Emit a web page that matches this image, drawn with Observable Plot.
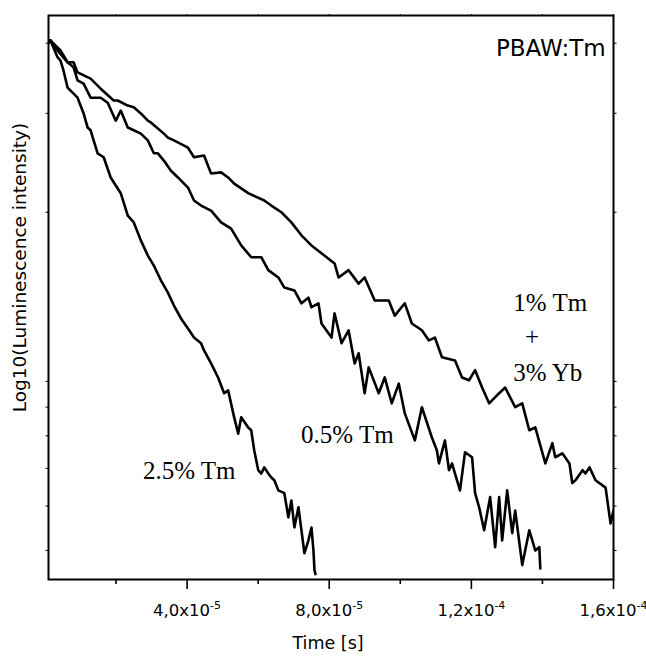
<!DOCTYPE html>
<html>
<head>
<meta charset="utf-8">
<script src="https://cdn.jsdelivr.net/npm/d3@7"></script>
<script src="https://cdn.jsdelivr.net/npm/@observablehq/plot@0.6"></script>
<style>
  html, body { margin: 0; padding: 0; background: #fff; }
</style>
</head>
<body>
<div id="chart"></div>
<script>
// Time in microseconds, value = log10(relative luminescence intensity)
const seriesNames = ["1% Tm + 3% Yb", "0.5% Tm", "2.5% Tm"];

const curveTmYb = [[1.0,0.603],[1.55,0.607],[4.38,0.589],[6.36,0.568],[8.05,0.568],[9.18,0.550],[12.85,0.539],[15.68,0.521],[19.35,0.500],[20.48,0.500],[23.31,0.491],[25.0,0.488],[26.98,0.477],[28.95,0.464],[29.8,0.461],[33.47,0.441],[34.6,0.434],[36.3,0.429],[40.25,0.416],[41.95,0.399],[44.77,0.402],[46.75,0.370],[49.58,0.372],[51.55,0.363],[53.25,0.352],[57.2,0.335],[61.72,0.322],[63.7,0.313],[66.53,0.301],[69.35,0.283],[72.18,0.260],[75.0,0.242],[77.82,0.228],[81.5,0.210],[82.63,0.185],[85.45,0.198],[88.28,0.174],[89.97,0.185],[92.8,0.144],[96.75,0.144],[98.45,0.117],[101.27,0.139],[103.25,0.103],[106.07,0.091],[108.05,0.073],[109.75,0.078],[111.72,0.043],[115.4,0.037],[117.37,0.007],[119.35,0.002],[121.05,0.020],[123.02,-0.011],[125.0,-0.039],[127.82,-0.021],[129.52,-0.011],[132.34,-0.046],[134.32,-0.039],[136.3,-0.087],[137.99,-0.082],[140.82,-0.146],[142.8,-0.110],[143.6,-0.135],[145.6,-0.128],[147.6,-0.146],[148.4,-0.181],[149.3,-0.176],[151.3,-0.158],[152.1,-0.164],[153.25,-0.153],[154.94,-0.176],[157.77,-0.189],[159.18,-0.253],[160.0,-0.230]];

const curveTm05 = [[1.0,0.603],[1.55,0.607],[3.53,0.589],[6.36,0.568],[8.05,0.559],[9.18,0.536],[10.88,0.530],[12.85,0.505],[15.68,0.505],[17.66,0.496],[19.92,0.464],[21.33,0.482],[23.31,0.452],[25.0,0.447],[26.98,0.441],[28.95,0.429],[30.65,0.406],[31.78,0.406],[33.47,0.393],[35.45,0.375],[37.43,0.363],[40.25,0.345],[41.95,0.322],[43.93,0.313],[46.75,0.304],[49.58,0.283],[52.4,0.272],[55.23,0.242],[58.05,0.221],[60.88,0.221],[62.85,0.198],[65.68,0.185],[67.37,0.167],[70.2,0.162],[72.18,0.139],[74.15,0.149],[75.0,0.132],[76.98,0.139],[77.82,0.103],[80.65,0.078],[81.5,0.121],[83.47,0.068],[85.45,0.091],[87.15,0.032],[88.28,0.050],[89.97,-0.021],[91.1,0.025],[93.93,-0.021],[95.62,0.007],[97.6,-0.039],[99.58,-0.004],[101.27,-0.057],[104.1,-0.105],[106.07,-0.046],[108.9,-0.100],[110.3,-0.123],[110.88,-0.146],[112.57,-0.105],[113.7,-0.158],[114.55,-0.146],[116.8,-0.194],[118.22,-0.126],[120.2,-0.135],[121.05,-0.199],[122.18,-0.224],[123.6,-0.265],[125.28,-0.206],[126.7,-0.295],[127.82,-0.206],[128.67,-0.283],[130.08,-0.194],[131.5,-0.270],[132.34,-0.230],[134.32,-0.327],[136.3,-0.265],[137.99,-0.301],[139.12,-0.295],[139.4,-0.333]];

const curveTm25 = [[1.0,0.603],[1.55,0.607],[3.53,0.577],[4.38,0.571],[5.23,0.553],[6.36,0.523],[9.18,0.505],[10.88,0.477],[12.0,0.452],[12.85,0.447],[13.7,0.429],[14.83,0.406],[16.53,0.399],[18.5,0.363],[21.33,0.335],[23.31,0.295],[25.0,0.283],[26.98,0.251],[28.95,0.224],[30.65,0.206],[32.63,0.180],[34.6,0.158],[36.3,0.135],[38.28,0.112],[40.25,0.094],[41.95,0.078],[43.93,0.068],[44.77,0.055],[46.75,0.032],[48.73,0.007],[50.42,-0.021],[51.55,-0.016],[53.25,-0.064],[54.38,-0.093],[55.23,-0.064],[57.2,-0.082],[58.05,-0.087],[58.9,-0.123],[60.03,-0.158],[60.88,-0.164],[61.72,-0.153],[62.85,-0.164],[63.7,-0.171],[64.55,-0.176],[65.68,-0.194],[67.37,-0.199],[68.5,-0.242],[69.35,-0.212],[70.2,-0.260],[71.33,-0.224],[72.18,-0.265],[73.02,-0.306],[74.15,-0.283],[75.0,-0.260],[75.56,-0.301],[75.85,-0.336],[76.13,-0.343]];

const xMajorTicks = [4e-5, 8e-5, 1.2e-4, 1.6e-4];
const xMajorBase = ["4,0x10", "8,0x10", "1,2x10", "1,6x10"];
const xMajorExp = ["-5", "-5", "-4", "-4"];
const xMinorTicks = [2e-5, 6e-5, 1e-4, 1.4e-4];
const yTickValues = [0.5, 0.6, 0.7, 0.8, 0.9, 1, 2, 3, 4];
const yDomainIntensity = [0.444, 4.48];
const xDomain = [1e-6, 1.6e-4];

const rows = [];
[curveTmYb, curveTm05, curveTm25].forEach((c, k) => {
  c.forEach(([t, v]) => rows.push({series: seriesNames[k], t: t * 1e-6, v}));
});

const sans = "DejaVu Sans, Liberation Sans, Arial, sans-serif";
const serif = "Liberation Serif, Times New Roman, serif";

const svg = Plot.plot({
  width: 646,
  height: 657,
  marginTop: 15,
  marginRight: 33,
  marginBottom: 78,
  marginLeft: 48,
  style: {fontFamily: sans, background: "white", color: "black", overflow: "visible"},
  x: {domain: xDomain},
  y: {domain: yDomainIntensity.map(Math.log10)},
  marks: [
    Plot.axisX({ticks: xMinorTicks, tickSize: 5, strokeWidth: 1.6, tickFormat: () => "", label: null}),
    Plot.axisX({ticks: xMajorTicks, tickSize: 10, strokeWidth: 1.6, tickPadding: 15, fontSize: 16.5,
      tickFormat: d => { const i = xMajorTicks.indexOf(d); return xMajorBase[i] + "^" + xMajorExp[i]; }, label: null}),
    Plot.axisX({anchor: "top", ticks: [...xMinorTicks, ...xMajorTicks], tickSize: 2, tickFormat: () => "", label: null}),
    Plot.axisY({anchor: "left", ticks: yTickValues.map(Math.log10), tickSize: 2.5, tickFormat: () => "", label: null}),
    Plot.axisY({anchor: "right", ticks: yTickValues.map(Math.log10), tickSize: 2.5, tickFormat: () => "", label: null}),
    Plot.line(rows, {x: "t", y: "v", z: "series", stroke: "black", strokeWidth: 2.6, strokeLinejoin: "round", clip: true}),
    Plot.frame({stroke: "black", strokeWidth: 2}),
    Plot.text(["Time [s]"], {text: d => d, frameAnchor: "bottom", dx: -3, dy: 69, lineAnchor: "bottom", fontSize: 17.5}),
    Plot.text(["Log10(Luminescence intensity)"], {text: d => d, frameAnchor: "left", textAnchor: "middle", dx: -28.5, dy: -30, rotate: -90, lineAnchor: "middle", fontSize: 18.5}),
    Plot.text(["PBAW:Tm"], {text: d => d, x: 157.8e-6, y: 0.580, textAnchor: "end", lineAnchor: "bottom", fontSize: 23}),
    Plot.text(["1% Tm"], {text: d => d, x: 142.2e-6, y: 0.125, lineAnchor: "bottom", fontSize: 25, fontFamily: serif}),
    Plot.text(["+"], {text: d => d, x: 137.1e-6, y: 0.064, lineAnchor: "bottom", fontSize: 25, fontFamily: serif}),
    Plot.text(["3% Yb"], {text: d => d, x: 141.5e-6, y: 0.0, lineAnchor: "bottom", fontSize: 25, fontFamily: serif}),
    Plot.text(["0.5% Tm"], {text: d => d, x: 85.1e-6, y: -0.110, lineAnchor: "bottom", fontSize: 25, fontFamily: serif}),
    Plot.text(["2.5% Tm"], {text: d => d, x: 40.6e-6, y: -0.174, lineAnchor: "bottom", fontSize: 25, fontFamily: serif})
  ]
});

d3.select(svg).selectAll("text").each(function() {
  const s = d3.select(this);
  const t = s.text();
  if (!t.includes("^")) return;
  const [b, e] = t.split("^");
  s.text(null);
  s.append("tspan").text(b);
  s.append("tspan").attr("dy", "-7").attr("font-size", "11").text(e);
});

document.getElementById("chart").appendChild(svg);
</script>
</body>
</html>
